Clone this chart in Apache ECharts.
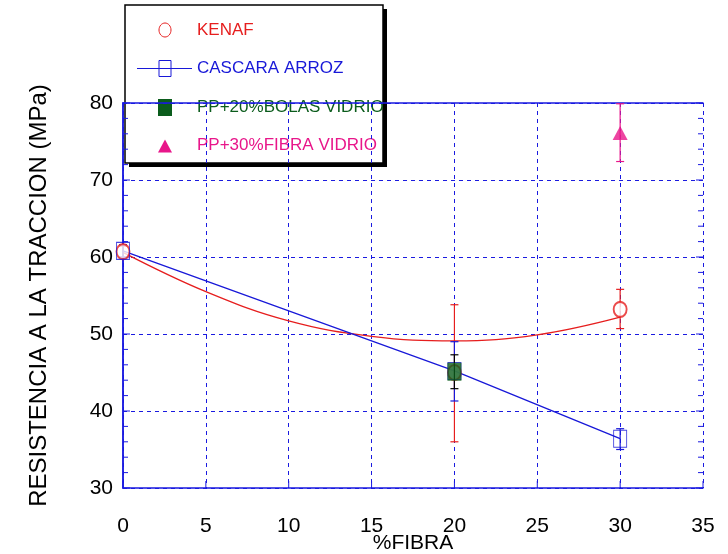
<!DOCTYPE html>
<html>
<head>
<meta charset="utf-8">
<script src="https://cdn.jsdelivr.net/npm/echarts@6/dist/echarts.min.js"></script>
<style>html,body{margin:0;padding:0;background:#fff}#c{width:728px;height:554px}</style>
</head>
<body>
<div id="c"></div>
<script>
// ---- data ----
var legendNames = ['KENAF', 'CASCARA ARROZ', 'PP+20%BOLAS VIDRIO', 'PP+30%FIBRA VIDRIO'];
var xTicks = [0, 5, 10, 15, 20, 25, 30, 35];
var yTicks = [30, 40, 50, 60, 70, 80];

var kenafX = [0, 20, 30];
var kenafY = [60.7, 45.0, 53.2];
var kenafLow = [60.0, 36.0, 50.7];
var kenafHigh = [61.4, 53.8, 55.8];
var kenafFitX = [0, 5, 10, 15, 20, 25, 30];
var kenafFitY = [60.6, 55.5, 51.7, 49.7, 49.1, 49.9, 52.2];

var cascaraX = [0, 20, 30];
var cascaraY = [60.8, 45.2, 36.4];
var cascaraLow = [60.0, 41.3, 35.0];
var cascaraHigh = [61.6, 49.0, 37.7];

var bolasX = [20];
var bolasY = [45.1];
var bolasLow = [42.9];
var bolasHigh = [47.3];

var fibraX = [30];
var fibraY = [76.1];
var fibraLow = [72.4];
var fibraHigh = [79.9];

// ---- styles ----
var RED = '#e61e1e', BLUE = '#1818d8', GREEN = '#0b5c1c', MAG = '#e8168a', AX = '#1a1ae0';

function zip(xs, ys) { return xs.map(function (x, i) { return [x, ys[i]]; }); }
function zip3(xs, lo, hi) { return xs.map(function (x, i) { return [x, lo[i], hi[i]]; }); }

function errSeries(name, xs, lo, hi, color, z) {
  return {
    type: 'custom', name: name + '_err', z: z, silent: true,
    data: zip3(xs, lo, hi),
    encode: { x: 0, y: [1, 2] },
    renderItem: function (params, api) {
      var p1 = api.coord([api.value(0), api.value(1)]);
      var p2 = api.coord([api.value(0), api.value(2)]);
      var w = 4;
      var st = { stroke: color, lineWidth: 1.2 };
      return {
        type: 'group', children: [
          { type: 'line', shape: { x1: p1[0], y1: p1[1], x2: p2[0], y2: p2[1] }, style: st },
          { type: 'line', shape: { x1: p1[0] - w, y1: p1[1], x2: p1[0] + w, y2: p1[1] }, style: st },
          { type: 'line', shape: { x1: p2[0] - w, y1: p2[1], x2: p2[0] + w, y2: p2[1] }, style: st }
        ]
      };
    }
  };
}

// tick marks (inside the frame): [side, value, isMajor]
var tickItems = [];
var yMin = yTicks[0], yMax = yTicks[yTicks.length - 1];
for (var v = yMin; v <= yMax + 1e-9; v += 2) {
  var major = Math.abs(v % 10) < 1e-9 ? 1 : 0;
  tickItems.push([0, v, major]);
  tickItems.push([1, v, major]);
}
xTicks.forEach(function (t) { tickItems.push([2, t, 1]); });

var tickSeries = {
  type: 'custom', name: 'ticks', z: 2, silent: true,
  data: tickItems,
  renderItem: function (params, api) {
    var side = api.value(0), val = api.value(1), maj = api.value(2);
    var len = maj ? 7 : 5;
    var x1, y1, x2, y2, p;
    if (side === 0) { p = api.coord([0, val]); x1 = p[0]; y1 = p[1]; x2 = p[0] + len; y2 = p[1]; }
    else if (side === 1) { p = api.coord([35, val]); x1 = p[0]; y1 = p[1]; x2 = p[0] - len; y2 = p[1]; }
    else { p = api.coord([val, 30]); x1 = p[0]; y1 = p[1]; x2 = p[0]; y2 = p[1] - len; }
    return { type: 'line', shape: { x1: x1, y1: y1, x2: x2, y2: y2 }, style: { stroke: AX, lineWidth: 1 } };
  }
};

var chart = echarts.init(document.getElementById('c'), null, { renderer: 'canvas' });
var FONT = 'Liberation Sans';

// legend drawn as graphics
var legColors = [RED, BLUE, GREEN, MAG];
var legChildren = [];
legChildren.push({ type: 'rect', shape: { x: 129, y: 9, width: 258, height: 158 }, style: { fill: '#000' } });
legChildren.push({ type: 'rect', shape: { x: 125, y: 5, width: 258, height: 158 }, style: { fill: '#fff', stroke: '#000', lineWidth: 1.5 } });
legendNames.forEach(function (n, i) {
  var cy = 30 + i * 38.5;
  var c = legColors[i];
  if (i === 0) {
    legChildren.push({ type: 'ellipse', shape: { cx: 165, cy: cy, rx: 6, ry: 7 }, style: { fill: '#fff', stroke: c, lineWidth: 1 } });
  } else if (i === 1) {
    legChildren.push({ type: 'line', shape: { x1: 137, y1: cy, x2: 192, y2: cy }, style: { stroke: c, lineWidth: 1 } });
    legChildren.push({ type: 'rect', shape: { x: 159, y: cy - 8, width: 12, height: 16 }, style: { fill: 'rgba(0,0,0,0)', stroke: c, lineWidth: 1 } });
  } else if (i === 2) {
    legChildren.push({ type: 'rect', shape: { x: 158, y: cy - 8, width: 14, height: 17 }, style: { fill: c } });
  } else {
    legChildren.push({ type: 'polygon', shape: { points: [[165, cy - 6], [172, cy + 7], [158, cy + 7]] }, style: { fill: c } });
  }
  legChildren.push({ type: 'text', style: { x: 197, y: cy, text: n, fill: c, font: '17px "' + FONT + '"', textVerticalAlign: 'middle', verticalAlign: 'middle' } });
});

var labelStyle = { color: '#000', fontSize: 21, fontFamily: FONT };

var option = {
  backgroundColor: '#fff',
  animation: false,
  grid: { left: 123, right: 25, top: 103, bottom: 66, containLabel: false, outerBoundsMode: 'none' },
  xAxis: [{
    type: 'value', min: 0, max: 35, interval: 5,
    name: '%FIBRA', nameLocation: 'middle', nameGap: 45, nameMoveOverlap: false,
    nameTextStyle: { color: '#000', fontSize: 21, fontFamily: FONT },
    axisLine: { lineStyle: { color: AX, width: 1.5 } },
    axisTick: { show: false },
    axisLabel: Object.assign({ margin: 28 }, labelStyle),
    splitLine: { show: true, lineStyle: { color: AX, type: [4, 4], width: 1 } }
  }, {
    type: 'value', min: 0, max: 35, interval: 5, position: 'top',
    axisLine: { show: true, lineStyle: { color: AX, width: 1.5 } },
    axisTick: { show: false }, axisLabel: { show: false }, splitLine: { show: false }
  }],
  yAxis: [{
    type: 'value', min: 30, max: 80, interval: 10,
    name: 'RESISTENCIA A LA TRACCION (MPa)', nameLocation: 'middle', nameGap: 72, nameRotate: 90, nameMoveOverlap: false,
    nameTextStyle: { color: '#000', fontSize: 24, fontFamily: FONT },
    axisLine: { show: true, lineStyle: { color: AX, width: 1.5 } },
    axisTick: { show: false },
    minorTick: { show: false },
    axisLabel: Object.assign({ margin: 10 }, labelStyle),
    splitLine: { show: true, lineStyle: { color: AX, type: [4, 4], width: 1 } }
  }, {
    type: 'value', min: 30, max: 80, interval: 10, position: 'right',
    axisLine: { show: true, lineStyle: { color: AX, width: 1.5 } },
    axisTick: { show: false }, minorTick: { show: false },
    axisLabel: { show: false }, splitLine: { show: false }
  }],
  graphic: [{ type: 'group', z: 100, children: legChildren }],
  series: [
    tickSeries,
    { type: 'line', name: 'KENAF fit', data: zip(kenafFitX, kenafFitY), smooth: 0.4, showSymbol: false, symbol: 'none',
      lineStyle: { color: RED, width: 1.3 }, z: 3, silent: true },
    { type: 'line', name: 'CASCARA ARROZ', data: zip(cascaraX, cascaraY), showSymbol: false, symbol: 'none',
      lineStyle: { color: BLUE, width: 1.3 }, z: 3, silent: true },
    errSeries('KENAF', kenafX, kenafLow, kenafHigh, RED, 4),
    errSeries('CASCARA ARROZ', cascaraX, cascaraLow, cascaraHigh, BLUE, 4),
    { type: 'scatter', name: 'KENAF', data: zip(kenafX, kenafY), symbol: 'emptyCircle', symbolSize: [13, 15],
      itemStyle: { color: RED, borderColor: RED, borderWidth: 1 }, z: 5 },
    { type: 'scatter', name: 'CASCARA ARROZ pts', data: zip(cascaraX, cascaraY), symbol: 'rect', symbolSize: [13, 17],
      itemStyle: { color: 'rgba(0,0,0,0)', borderColor: BLUE, borderWidth: 1 }, z: 5 },
    errSeries('PP+20%BOLAS VIDRIO', bolasX, bolasLow, bolasHigh, '#000', 6),
    { type: 'scatter', name: 'PP+20%BOLAS VIDRIO', data: zip(bolasX, bolasY), symbol: 'rect', symbolSize: [14, 18],
      itemStyle: { color: GREEN }, z: 7 },
    errSeries('PP+30%FIBRA VIDRIO', fibraX, fibraLow, fibraHigh, MAG, 6),
    { type: 'scatter', name: 'PP+30%FIBRA VIDRIO', data: zip(fibraX, fibraY), symbol: 'triangle', symbolSize: [15, 14],
      itemStyle: { color: MAG }, z: 7 }
  ]
};
chart.setOption(option);
</script>
</body>
</html>
